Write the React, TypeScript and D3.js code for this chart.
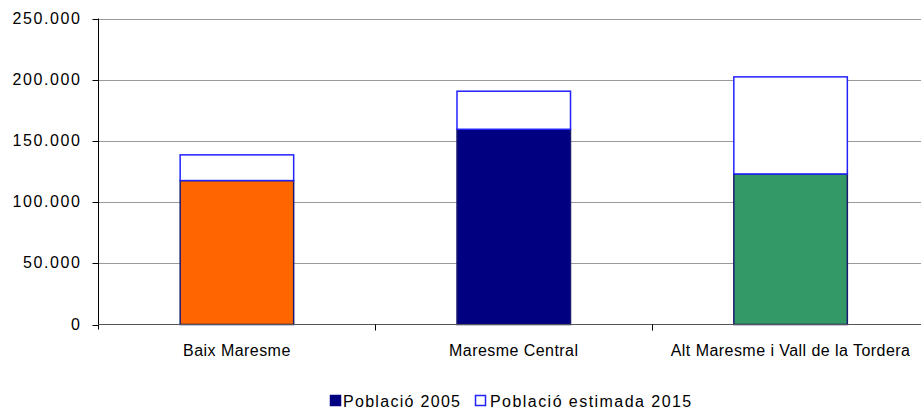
import * as d3 from 'd3';
import React, { useEffect } from 'react';

const categories = ['Baix Maresme', 'Maresme Central', 'Alt Maresme i Vall de la Tordera'];
const pop2005 = [117600, 159500, 123000];
const pop2015 = [138600, 190600, 202300];
const colors2005 = ['#ff6600', '#000080', '#339966'];
const yTicks = [0, 50000, 100000, 150000, 200000, 250000];
const legendLabels = ['Població 2005', 'Població estimada 2015'];

const fmt = (v: number) => (v === 0 ? '0' : d3.format(',')(v).replace(/,/g, '.'));

export default function App() {
  const ref = React.useRef<SVGSVGElement>(null);

  useEffect(() => {
    if (!ref.current) return;
    const svg = d3.select(ref.current);
    svg.selectAll('*').remove();

    const font = '"Liberation Sans", Arial, sans-serif';
    const left = 98.5;
    const right = 929;

    const x = d3
      .scaleBand<string>()
      .domain(categories)
      .range([left, right])
      .paddingInner(0.59)
      .paddingOuter(0.295);
    const y = d3.scaleLinear().domain([0, 250000]).range([324.5, 18.5]);

    // gridlines
    svg
      .append('g')
      .selectAll('line')
      .data(yTicks.filter(d => d > 0))
      .enter()
      .append('line')
      .attr('x1', left)
      .attr('x2', right)
      .attr('y1', d => Math.round(y(d)) + 0.5)
      .attr('y2', d => Math.round(y(d)) + 0.5)
      .attr('stroke', '#9a9a9a')
      .attr('stroke-width', 1);

    // y ticks and labels
    const yt = svg.append('g');
    yt.selectAll('line')
      .data(yTicks)
      .enter()
      .append('line')
      .attr('x1', left - 6)
      .attr('x2', left)
      .attr('y1', d => Math.round(y(d)) + 0.5)
      .attr('y2', d => Math.round(y(d)) + 0.5)
      .attr('stroke', '#000');
    yt.selectAll('text')
      .data(yTicks)
      .enter()
      .append('text')
      .attr('x', 81.5)
      .attr('y', d => y(d) + 5)
      .attr('text-anchor', 'end')
      .attr('font-family', font)
      .attr('font-size', 16)
      .attr('letter-spacing', 1.6)
      .attr('fill', '#000')
      .text(d => fmt(d));

    // bars: 2005 base, 2015 increase stacked on top
    const bw = x.bandwidth();
    svg
      .append('g')
      .selectAll('rect')
      .data(categories)
      .enter()
      .append('rect')
      .attr('x', d => x(d)!)
      .attr('y', (d, i) => y(pop2005[i]))
      .attr('width', bw)
      .attr('height', (d, i) => y(0) - y(pop2005[i]))
      .attr('fill', (d, i) => colors2005[i])
      .attr('stroke', '#1a1a70')
      .attr('stroke-width', 1.5);
    svg
      .append('g')
      .selectAll('rect')
      .data(categories)
      .enter()
      .append('rect')
      .attr('x', d => x(d)!)
      .attr('y', (d, i) => y(pop2015[i]))
      .attr('width', bw)
      .attr('height', (d, i) => y(pop2005[i]) - y(pop2015[i]))
      .attr('fill', '#fff')
      .attr('stroke', '#2222ff')
      .attr('stroke-width', 1.5);

    // axes lines
    svg
      .append('line')
      .attr('x1', left)
      .attr('x2', left)
      .attr('y1', y(250000))
      .attr('y2', y(0) + 5)
      .attr('stroke', '#000');
    svg
      .append('line')
      .attr('x1', left)
      .attr('x2', right)
      .attr('y1', y(0))
      .attr('y2', y(0))
      .attr('stroke', '#555');

    // category boundary ticks
    svg
      .append('g')
      .selectAll('line')
      .data(categories.slice(1))
      .enter()
      .append('line')
      .attr('x1', d => Math.round(x(d)! - (x.step() - bw) / 2) + 0.5)
      .attr('x2', d => Math.round(x(d)! - (x.step() - bw) / 2) + 0.5)
      .attr('y1', y(0))
      .attr('y2', y(0) + 6)
      .attr('stroke', '#000');

    // category labels
    svg
      .append('g')
      .selectAll('text')
      .data(categories)
      .enter()
      .append('text')
      .attr('x', d => x(d)! + bw / 2)
      .attr('y', 356)
      .attr('text-anchor', 'middle')
      .attr('font-family', font)
      .attr('font-size', 16)
      .attr('letter-spacing', 0.45)
      .attr('fill', '#000')
      .text(d => d);

    // legend
    const lg = svg.append('g');
    const items = [
      { x: 330.5, fill: '#000080', stroke: '#000080', tx: 343 },
      { x: 475.5, fill: '#fff', stroke: '#2222ff', tx: 490 },
    ];
    items.forEach((it, i) => {
      lg.append('rect')
        .attr('x', it.x)
        .attr('y', 395.5)
        .attr('width', 10)
        .attr('height', 10)
        .attr('fill', it.fill)
        .attr('stroke', it.stroke)
        .attr('stroke-width', 1.5);
      lg.append('text')
        .attr('x', it.tx)
        .attr('y', 407)
        .attr('font-family', font)
        .attr('font-size', 16)
        .attr('letter-spacing', i === 0 ? 1.3 : 1.45)
        .attr('fill', '#000')
        .text(legendLabels[i]);
    });
  }, []);

  return (
    <svg
      ref={ref}
      width={921}
      height={412}
      style={{ position: 'absolute', left: 0, top: 0, background: '#fff' }}
    />
  );
}
